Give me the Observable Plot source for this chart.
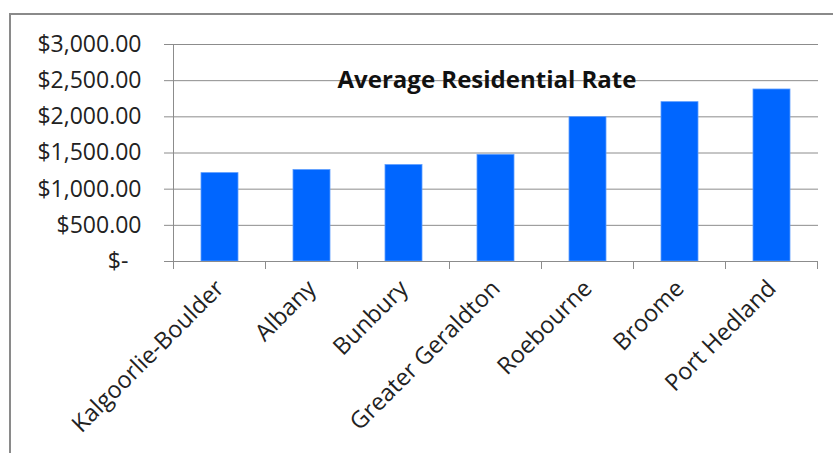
<!DOCTYPE html>
<html>
<head>
<meta charset="utf-8">
<script src="https://cdn.jsdelivr.net/npm/d3@7"></script>
<script src="https://cdn.jsdelivr.net/npm/@observablehq/plot@0.6"></script>
<style>
  html, body { margin: 0; padding: 0; background: #fff; overflow: hidden; }
  #wrap { position: relative; width: 833px; height: 453px; }
  #frame { position: absolute; left: 9px; top: 13px; width: 900px; height: 500px; border: 2px solid #8a8a8a; box-sizing: border-box; }
  #chart { position: absolute; left: 0; top: 0; }
</style>
</head>
<body>
<div id="wrap"><div id="frame"></div><div id="chart"></div></div>
<script>
const categories = ["Kalgoorlie-Boulder", "Albany", "Bunbury", "Greater Geraldton", "Roebourne", "Broome", "Port Hedland"];
const rates = [1222, 1264, 1333, 1475, 1996, 2203, 2378];
const yTicks = [0, 500, 1000, 1500, 2000, 2500, 3000];
const title = "Average Residential Rate";

const data = categories.map((c, i) => ({category: c, rate: rates[i]}));
const fmt = d => d === 0 ? "$-\u2007" : d3.format("$,.2f")(d);
const font = "'Open Sans', Lato, sans-serif";

const plot = Plot.plot({
  width: 833,
  height: 453,
  marginLeft: 173,
  marginRight: 15,
  marginTop: 44,
  marginBottom: 192,
  style: {fontFamily: font, background: "transparent", overflow: "visible"},
  x: {domain: categories, paddingInner: 0.6, paddingOuter: 0.3, label: null},
  y: {domain: [0, 3000], label: null},
  marks: [
    Plot.gridY(yTicks, {stroke: "#8c8c8c", strokeOpacity: 1, strokeWidth: 1}),
    Plot.barY(data, {x: "category", y: "rate", fill: "#0066ff", stroke: "#5c9dff", strokeWidth: 0.8}),
    Plot.axisY(yTicks, {tickFormat: fmt, tickSize: 9, tickPadding: 23, fontSize: 23, stroke: "#8c8c8c", fill: "#222", label: null}),
    Plot.ruleY([0], {stroke: "#8c8c8c"}),
    Plot.axisX({tickSize: 0, tickRotate: -45, tickPadding: 23, fontSize: 23.5, fill: "#222", label: null}),
    Plot.text([title], {frameAnchor: "top", dx: -9, dy: 26, fontSize: 24, fontWeight: "bold", fill: "#111", fontFamily: font})
  ]
});

document.getElementById("chart").appendChild(plot);

// y-axis line and band-boundary ticks on the x axis, using the plot's scales
const xs = plot.scale("x");
const ys = plot.scale("y");
const svg = d3.select(plot);
const step = xs.step;
const first = xs.apply(categories[0]) - (step - xs.bandwidth) / 2;
const bounds = d3.range(categories.length + 1).map(i => first + i * step);
const yBase = ys.apply(0);
const g = svg.append("g").attr("stroke", "#8c8c8c").attr("stroke-width", 1);
g.selectAll("line.xt").data(bounds).join("line")
  .attr("x1", d => d).attr("x2", d => d)
  .attr("y1", yBase).attr("y2", yBase + 8);
g.append("line").attr("x1", bounds[0]).attr("x2", bounds[0]).attr("y1", ys.apply(3000)).attr("y2", yBase);
</script>
</body>
</html>
